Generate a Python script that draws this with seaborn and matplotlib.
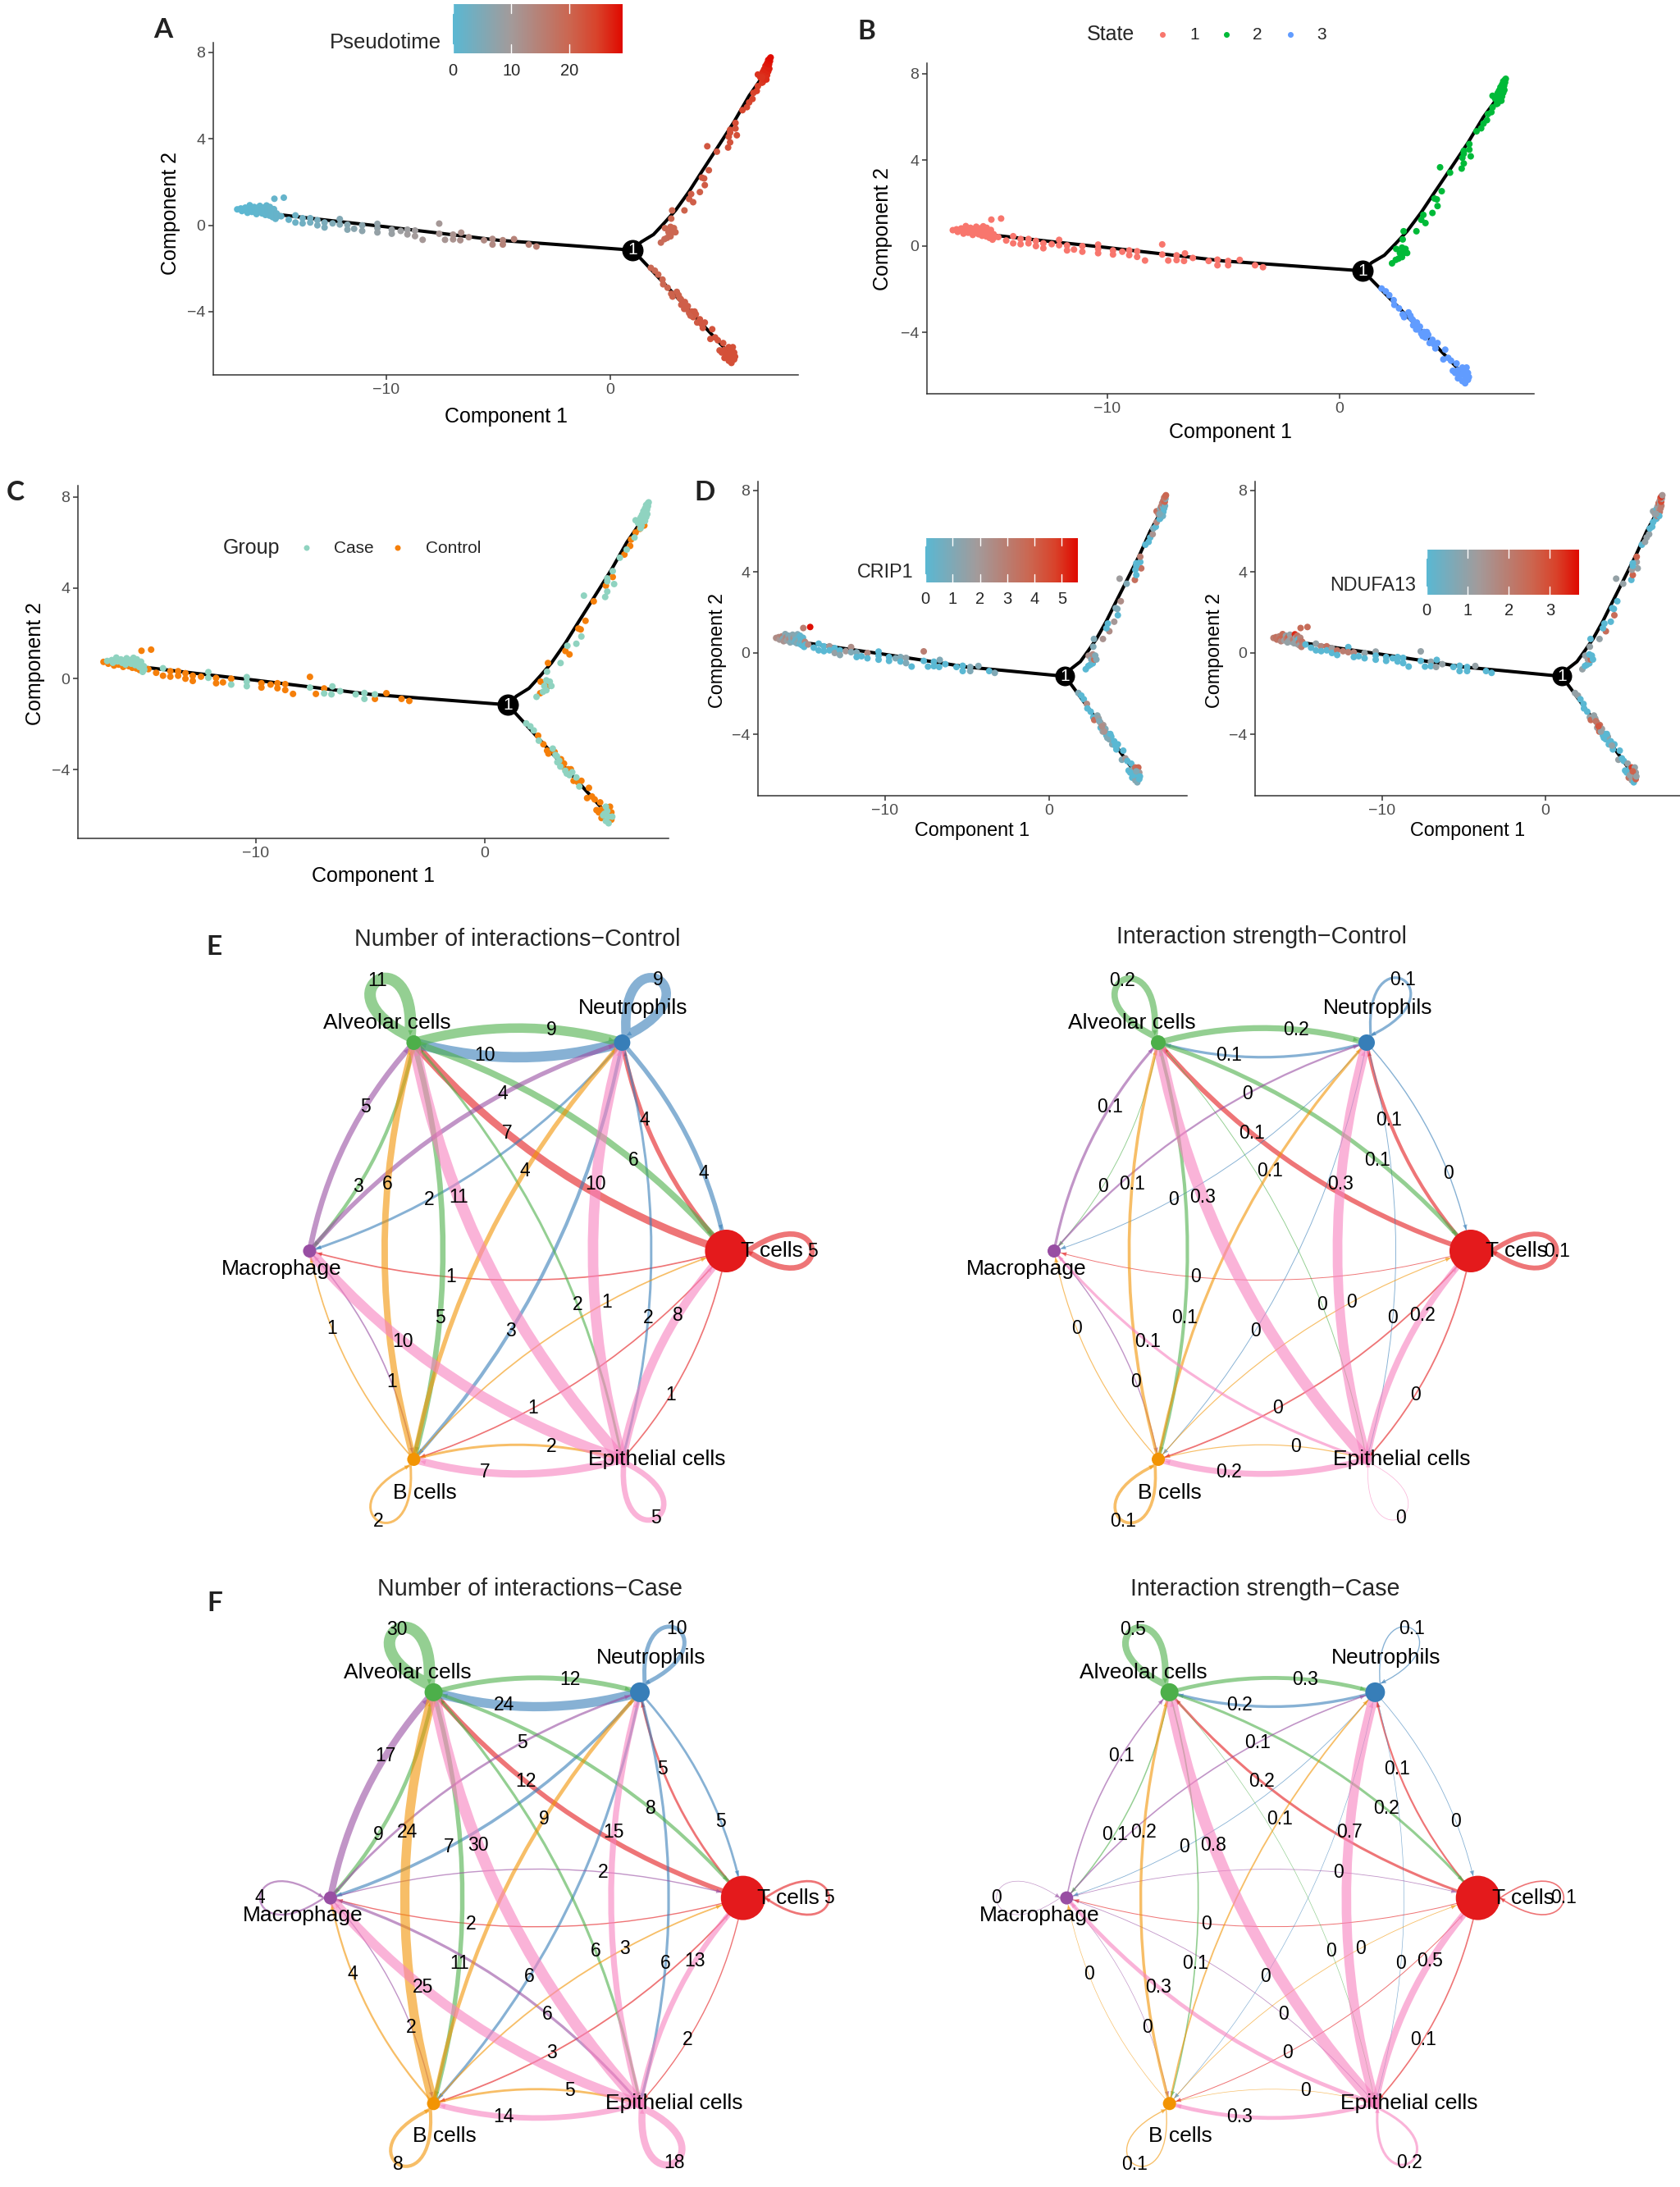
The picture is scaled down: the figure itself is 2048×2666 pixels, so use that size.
import numpy as np
import pandas as pd
import matplotlib
matplotlib.use("Agg")
import matplotlib.pyplot as plt
from matplotlib.colors import LinearSegmentedColormap, to_rgba
from matplotlib.patches import FancyArrowPatch
from matplotlib.path import Path
import seaborn as sns

# ---------------- DATA: trajectory cells (x, y, pseudotime, group, CRIP1, NDUFA13)
CA, CO = "Case", "Control"
LEFT_CLUSTER = [
 (-16.66,.74,0.2,CO,2.4,2.0),(-16.5,.78,0.3,CA,2.6,2.3),(-16.45,.66,0.3,CO,2.0,2.2),(-16.3,.82,0.4,CA,2.8,2.0),
 (-16.25,.7,0.4,CA,1.0,2.4),(-16.2,.58,0.5,CO,2.2,1.8),(-16.1,.93,0.5,CA,1.2,2.4),(-16.05,.76,0.6,CA,2.6,2.5),
 (-16,.62,0.6,CO,1.6,1.2),(-15.9,.85,0.7,CA,1.0,1.0),(-15.85,.7,0.7,CA,2.4,2.0),(-15.8,.52,0.8,CO,1.2,1.0),
 (-15.75,.8,0.8,CA,1.0,2.6),(-15.7,.62,0.9,CA,0.8,1.0),(-15.65,.9,0.9,CA,1.2,1.0),(-15.6,.72,1.0,CA,2.2,1.2),
 (-15.55,.55,1.0,CO,0.6,1.0),(-15.5,.82,1.1,CA,1.2,1.2),(-15.45,.66,1.1,CA,0.3,2.0),(-15.4,.48,1.2,CO,1.0,1.0),
 (-15.35,.92,1.2,CA,1.0,3.4),(-15.3,.76,1.3,CA,0.5,1.2),(-15.28,.6,1.3,CA,1.2,1.0),(-15.22,.45,1.3,CO,0.3,1.0),
 (-15.2,.85,1.4,CA,0.2,2.2),(-15.15,.68,1.4,CA,0.1,0.1),(-15.1,.52,1.4,CA,1.0,2.2),(-15.08,.38,1.5,CO,0.0,1.2),
 (-15.02,.75,1.5,CA,0.2,1.8),(-15.0,.6,1.5,CA,0.0,2.0),(-14.97,.44,1.5,CA,0.0,0.8),(-14.95,.3,1.5,CA,0.0,2.0),
 (-14.9,.55,1.6,CA,2.6,2.2),(-14.88,.4,1.6,CA,0.0,2.0),
]
LEFT_TAIL = [
 (-15.0,1.23,1.5,CO,3.0,2.4),(-14.58,1.28,1.5,CO,5.5,2.4),(-14.7,.42,2,CO,2.4,0),(-14.36,.26,2,CO,0,0),
 (-14.06,.46,2.5,CA,0,1.0),(-14.06,.13,2.5,CO,0,0),(-13.74,.33,3,CO,0,1.8),(-13.74,.09,3,CO,0,0),
 (-13.4,.33,3.5,CO,2.2,2.3),(-13.4,.13,3.5,CO,0,0),(-13.08,.24,4,CO,0,1.2),(-13.08,0,4,CO,1.6,0),
 (-12.76,.13,4.5,CO,0,2.2),(-12.76,-.1,4.5,CO,1.2,0),(-12.4,.09,5,CO,2.0,2.0),(-12.08,.29,5.5,CA,2.4,0),
 (-12.08,.04,5.5,CA,1.0,2.0),(-11.74,.03,6,CO,1.0,1.8),(-11.74,-.2,6,CO,0,0),(-11.44,-.16,6.5,CO,0,0),
 (-11.08,0,6.5,CO,2.6,1.0),(-11.08,-.26,7,CA,0,0),(-10.4,.07,7.5,CA,0,1.0),(-10.4,-.13,7.5,CA,0,0),
 (-10.4,-.33,8,CA,0,0),(-9.76,-.2,8.5,CO,0,0),(-9.76,-.39,8.5,CO,0,0),(-9.36,-.26,9,CO,1.0,0),
 (-9.06,-.2,9,CO,1.0,0),(-9.06,-.42,9.5,CO,0,0),(-8.72,-.24,9.5,CO,1.4,0),(-8.72,-.5,10,CO,1.0,0),
 (-8.38,-.67,10.5,CO,0,0),(-7.64,.08,10.5,CO,3.0,1.0),(-7.64,-.39,11,CA,0,0),(-7.38,-.67,11,CO,0,0),
 (-7.02,-.43,11.5,CO,0,0.9),(-7.02,-.65,11.5,CA,0,0),(-6.7,-.69,12,CA,0,1.0),(-6.66,-.34,12.5,CA,1.0,0),
 (-6.32,-.55,12.5,CA,0,1.0),(-5.64,-.69,13,CA,0,0),(-5.26,-.63,13,CA,0,0),(-5.26,-.89,13.5,CA,0,0),
 (-4.8,-.69,14,CA,1.0,0),(-4.8,-.89,14.5,CO,1.0,0),(-4.3,-.64,14.5,CO,1.0,1.0),(-3.64,-.89,15,CO,0,0),
 (-3.3,-.98,15.5,CO,1.0,0),
]
UP_ARM = [
 (2.26,-.80,19,CA,0,1.0),(2.42,-.64,19,CO,0,0),(2.54,-.58,19,CA,0,0),(2.69,-.51,19.5,CA,0,0),
 (2.44,-.13,19.5,CO,2.2,1.0),(2.60,-.32,19.5,CA,1.0,1.2),(2.78,-.32,20,CO,3.5,2.4),(2.91,-.32,20,CA,1.0,0),
 (2.69,-.07,20,CA,2.5,0),(2.84,-.13,20,CA,1.0,0),(2.72,.31,20,CA,1.0,1.0),(2.76,.69,20,CO,1.0,0),
 (3.31,.69,20.5,CA,2.2,1.0),(3.70,1.07,21,CO,2.4,2.4),(3.52,1.22,21,CO,0,0),(3.61,1.45,21,CA,0,0),
 (4.0,1.54,21,CA,2.0,0),(4.22,1.86,21.5,CA,0,2.4),(4.09,2.21,21.5,CO,1.0,0),(4.19,2.17,21.5,CO,1.0,0),
 (4.40,2.55,21.5,CO,2.4,0),(4.76,3.41,22,CO,1.0,1.0),(4.33,3.66,22,CA,1.8,1.0),(5.26,3.60,22.5,CA,3.5,0),
 (5.35,3.84,22.5,CA,0,2.6),(5.65,4.17,23,CA,3.4,1.0),(5.29,4.10,23,CO,0,1.2),(5.35,4.29,23,CA,0,0),
 (5.59,4.48,23,CO,0,1.2),(5.59,4.74,23.5,CA,3.0,2.6),(5.35,4.42,23,CA,0,0),(5.90,5.33,24,CA,0,0),
 (6.1,5.47,24,CO,0,1.0),(6.2,5.69,24,CA,0,1.0),(6.35,5.85,24.5,CO,2.2,1.0),(6.39,6.13,24.5,CO,1.0,0),
 (6.54,6.22,25,CA,0,0),(6.59,6.44,25,CO,2.6,0),(6.81,6.63,25.5,CA,0,2.4),
]
UP_TIP = [
 (6.77,6.6,25.5,CO,0,0),(6.85,6.75,26,CA,0,2.0),(6.59,6.98,26,CA,3.5,1.0),(6.85,6.95,26,CA,1.0,0),
 (6.93,6.85,26.5,CO,0,1.0),(6.81,7.1,26.5,CA,1.0,0),(6.93,7.05,26.5,CA,2.4,1.4),(7.0,6.95,26.5,CA,0,2.2),
 (6.87,7.22,27,CA,3.2,1.2),(6.97,7.2,27,CA,1.0,1.0),(7.05,7.12,27,CA,0,2.0),(6.93,7.38,27.5,CA,2.8,2.4),
 (7.03,7.32,27.5,CA,3.2,1.0),(7.1,7.25,27.5,CA,0.5,2.0),(7.0,7.5,28,CA,3.4,1.4),(7.09,7.45,28,CA,3.8,3.0),
 (7.13,7.6,28.5,CA,1.0,1.2),(7.05,7.65,28.5,CA,3.2,2.8),(7.12,7.72,28.8,CA,3.6,3.4),(7.16,7.77,29,CA,3.8,1.4),
 (6.97,6.75,26.5,CO,0.5,0),(6.7,6.85,26,CA,2.8,1.2),(6.78,6.85,26,CO,1.0,1.0),
]
DOWN_ARM = [
 (1.81,-1.97,19.5,CA,1.0,1.0),(1.99,-2.10,19.5,CA,0,1.0),(2.14,-2.28,20,CA,0,0),(2.33,-2.51,20,CO,2.5,0),
 (2.36,-2.73,20,CA,0,0),(2.56,-2.89,20,CO,0,0),(2.72,-3.17,20.5,CO,0,1.0),(2.78,-3.30,20.5,CO,3.5,2.4),
 (2.97,-3.08,20.5,CA,1.2,1.0),(3.05,-3.23,20.5,CO,1.6,1.0),(3.15,-3.42,20.5,CA,2.2,1.0),(3.17,-3.68,21,CA,0,1.2),
 (3.33,-3.55,21,CO,2.0,2.4),(3.30,-3.87,21,CA,1.6,2.6),(3.46,-3.74,21,CO,1.0,1.2),(3.52,-4.06,21,CA,0,0),
 (3.64,-3.99,21.5,CO,0,0),(3.70,-4.25,21.5,CA,1.2,0),(3.82,-4.12,21.5,CA,0,1.0),(3.88,-4.50,21.5,CO,1.0,0),
 (4.0,-4.35,22,CA,0,0),(4.13,-4.75,22,CA,0,0),(4.22,-4.50,22,CO,0,0),(4.55,-4.81,22.5,CO,0,0),
 (4.47,-5.26,22.5,CO,1.0,1.0),(4.68,-5.19,22.5,CO,2.0,0),(4.80,-5.32,22.5,CO,0,0),(5.04,-5.45,22.5,CO,0,1.0),
 (4.88,-5.79,22.5,CO,0,0),(3.09,-3.36,20.5,CA,1.0,2.2),(3.39,-3.87,21,CO,2.2,1.0),(3.58,-4.18,21,CA,1.0,0),
 (3.76,-3.99,21.5,CO,0,0),(4.07,-4.56,22,CO,0,1.0),(3.25,-3.61,21,CA,2.4,2.8),
]
DOWN_TIP = [
 (5.10,-5.76,22.8,CO,1.2,0),(5.29,-5.64,23,CA,3.6,3.2),(5.47,-5.64,23,CO,3.8,1.0),(5.53,-5.89,23,CO,2.0,1.0),
 (5.23,-5.95,23,CA,1.2,0),(5.41,-6.08,23,CA,0,2.4),(5.10,-6.14,23,CO,0,2.2),(5.29,-6.27,23,CA,1.2,1.2),
 (5.41,-6.37,23,CA,1.0,0),(5.53,-6.21,23,CO,0,2.6),(4.98,-5.89,22.8,CO,0,0),(5.17,-6.02,23,CA,0,1.0),
 (5.35,-5.83,23,CA,1.0,2.6),(5.57,-6.08,23,CA,0,1.0),
]

TRUNK_X = [-15.0, -12.5, -10.0, -7.5, -5.0, -2.5, 1.0]
TRUNK_Y = [0.52, 0.22, -0.07, -0.38, -0.69, -0.88, -1.15]
UP_X = [1.0, 1.38, 1.93, 2.42, 2.91, 3.52, 4.07, 4.74, 5.53, 6.2, 6.63, 7.1]
UP_Y = [-1.15, -0.77, -0.425, 0.12, 0.69, 1.57, 2.46, 3.53, 4.8, 6.0, 6.63, 7.4]
DOWN_X = [1.0, 1.75, 4.43, 5.2]
DOWN_Y = [-1.15, -1.97, -4.94, -5.8]

X_TICKS = [-10, 0]
Y_TICKS = [-4, 0, 4, 8]

# ---------------- DATA: cell-cell networks (row = source, column = target)
CELLS = ["T cells", "Neutrophils", "Alveolar cells", "Macrophage", "B cells", "Epithelial cells"]
CELL_COLORS = ["#E41A1C", "#377EB8", "#4DAF4A", "#984EA3", "#F29403", "#F781BF"]
COUNT_CONTROL = [
 [5, 4, 7, 1, 1, 1],
 [4, 9, 10, 2, 3, 2],
 [6, 9, 11, 3, 5, 2],
 [0, 4, 5, 0, 1, 0],
 [1, 4, 6, 1, 2, 2],
 [8, 10, 11, 10, 7, 5],
]
STRENGTH_CONTROL = [
 [.12, .08, .12, .01, .03, .03],
 [.02, .06, .06, .01, .01, .01],
 [.10, .151, .16, .01, .08, .01],
 [0, .04, .06, 0, .02, 0],
 [.015, .06, .07, .015, .07, .015],
 [.16, .251, .30, .06, .151, .005],
]
COUNT_CASE = [
 [5, 5, 12, 2, 3, 2],
 [5, 10, 24, 7, 6, 6],
 [8, 12, 30, 9, 11, 6],
 [2, 5, 17, 4, 2, 6],
 [3, 9, 24, 4, 8, 5],
 [13, 15, 30, 25, 14, 18],
]
STRENGTH_CASE = [
 [.07, .10, .151, .03, .03, .07],
 [.02, .05, .17, .02, .01, .01],
 [.151, .251, .451, .06, .07, .01],
 [.02, .07, .07, .01, .01, .02],
 [.02, .08, .17, .01, .05, .01],
 [.451, .66, .80, .251, .251, .151],
]
NODE_RADIUS_CONTROL = [26, 10, 9, 8, 8, 4]
NODE_RADIUS_CASE = [27, 12, 11, 8, 8, 6]

# ---------------- set-up
W, H = 2048, 2666
sns.set_theme(style="ticks")
plt.rcParams["font.family"] = ["Liberation Sans", "DejaVu Sans"]
plt.rcParams["axes.unicode_minus"] = True
fig = plt.figure(figsize=(W / 100, H / 100), dpi=100, facecolor="white")

PX = 0.72
cols = ["c1", "c2", "pt", "group", "crip", "nd"]
parts = []
for rows, state in [(LEFT_CLUSTER, "1"), (LEFT_TAIL, "1"), (UP_ARM, "2"), (UP_TIP, "2"), (DOWN_ARM, "3"), (DOWN_TIP, "3")]:
    d = pd.DataFrame(rows, columns=cols)
    d["state"] = state
    parts.append(d)
cells = pd.concat(parts, ignore_index=True)

GRAD = LinearSegmentedColormap.from_list(
    "grad", [(0, "#5AB8D3"), (.34, "#A39B9B"), (.69, "#CC6650"), (.85, "#D9432B"), (1, "#E00A00")])
STATE_PAL = {"1": "#F8766D", "2": "#00BA38", "3": "#619CFF"}
GROUP_PAL = {CA: "#8FD3C0", CO: "#F57F0A"}
DOT = 8.0

overlay = fig.add_axes([0, 0, 1, 1], zorder=20)
overlay.set_xlim(0, W)
overlay.set_ylim(H, 0)
overlay.axis("off")


def label(x, y, s, size, **kw):
    kw.setdefault("ha", "center")
    kw.setdefault("va", "center")
    overlay.text(x, y, s, fontsize=size, **kw)


def traj_axes(L, R, B, T, xm10, x0, y8, ym4):
    ax = fig.add_axes([L / W, 1 - B / H, (R - L) / W, (B - T) / H])
    ux = (x0 - xm10) / 10
    uy = (ym4 - y8) / 12
    y0 = y8 + 8 * uy
    ax.set_xlim((L - x0) / ux, (R - x0) / ux)
    ax.set_ylim((y0 - B) / uy, (y0 - T) / uy)
    return ax


def finish(ax, L, R, xlab_y, ylab_x, ylab_y, fs_lab, node_px):
    for lx, ly in [(TRUNK_X, TRUNK_Y), (UP_X, UP_Y), (DOWN_X, DOWN_Y)]:
        sns.lineplot(x=lx, y=ly, sort=False, estimator=None, color="black", lw=2.9,
                     ax=ax, zorder=1, legend=False)
    ax.scatter([TRUNK_X[-1]], [TRUNK_Y[-1]], s=(node_px * PX) ** 2, color="black", zorder=3, linewidth=0)
    ax.text(TRUNK_X[-1], TRUNK_Y[-1], "1", color="white", fontsize=15, ha="center", va="center", zorder=4)
    ax.set_xticks(X_TICKS)
    ax.set_yticks(Y_TICKS)
    sns.despine(ax=ax)
    for sp in ("left", "bottom"):
        ax.spines[sp].set_linewidth(1.1)
        ax.spines[sp].set_color("#333333")
    ax.tick_params(labelsize=14, labelcolor="#4D4D4D", color="#333333", length=4, width=1.1, pad=3)
    ax.set_xlabel("")
    ax.set_ylabel("")
    label((L + R) / 2, xlab_y, "Component 1", fs_lab, color="black")
    label(ylab_x, ylab_y, "Component 2", fs_lab, rotation=90, color="black")


def colorbar(x0, x1, y0, y1, vmax, ticks, name, title_right, title_y, tick_y, fs_title):
    cax = fig.add_axes([x0 / W, 1 - y1 / H, (x1 - x0) / W, (y1 - y0) / H], zorder=15)
    grad = np.linspace(0, 1, 256).reshape(1, -1)
    cax.imshow(grad, aspect="auto", cmap=GRAD, extent=(0, vmax, 0, 1))
    for t in ticks:
        cax.plot([t, t], [0, .18], color="white", lw=1)
        cax.plot([t, t], [.82, 1], color="white", lw=1)
        label(x0 + (x1 - x0) * t / vmax, tick_y, str(t), 14.5)
    cax.set_xlim(0, vmax)
    cax.set_ylim(0, 1)
    cax.axis("off")
    label(title_right, title_y, name, fs_title, ha="right")


# Panel A
L, R = 260, 973
ax = traj_axes(L, R, 457, 52, 471, 744, 64, 380)
sns.scatterplot(data=cells, x="c1", y="c2", hue="pt", palette=GRAD, hue_norm=(0, 29.1),
                s=(DOT * PX) ** 2, linewidth=0, legend=False, ax=ax, zorder=2)
finish(ax, L, R, 508, 208, 260, 18, 26)
colorbar(552, 759, 5, 65, 29.1, [0, 10, 20], "Pseudotime", 538, 52, 87, 18.5)

# Panel B
L, R = 1130, 1870
ax = traj_axes(L, R, 480, 77, 1350, 1633, 90, 405)
sns.scatterplot(data=cells, x="c1", y="c2", hue="state", palette=STATE_PAL,
                s=(DOT * PX) ** 2, linewidth=0, legend=False, ax=ax, zorder=2)
finish(ax, L, R, 527, 1076, 279, 18, 26)
label(1325, 42, "State", 18, ha="left")
for k, dx, lx in [("1", 1417, 1456), ("2", 1495, 1533), ("3", 1573, 1611)]:
    overlay.scatter([dx], [42], s=(7 * PX) ** 2, color=STATE_PAL[k], linewidth=0)
    label(lx, 42, k, 15)

# Panel C
L, R = 95, 815
ax = traj_axes(L, R, 1022, 592, 312, 591, 606, 938)
order = cells.assign(k=(cells["group"] == CA).astype(int)).sort_values("k", kind="stable")
sns.scatterplot(data=order, x="c1", y="c2", hue="group", palette=GROUP_PAL,
                s=(DOT * PX) ** 2, linewidth=0, legend=False, ax=ax, zorder=2)
finish(ax, L, R, 1068, 43, 809, 18, 26)
label(272, 668, "Group", 18, ha="left")
overlay.scatter([374, 485], [668, 668], s=(7 * PX) ** 2, color=[GROUP_PAL[CA], GROUP_PAL[CO]], linewidth=0)
label(406.5, 668, CA, 15, ha="left")
label(519, 668, CO, 15, ha="left")

# Panel D, CRIP1
L, R = 924, 1447
ax = traj_axes(L, R, 970, 587, 1079, 1278.5, 598, 895)
sns.scatterplot(data=cells, x="c1", y="c2", hue="crip", palette=GRAD, hue_norm=(0, 5.58),
                s=(DOT * PX) ** 2, linewidth=0, legend=False, ax=ax, zorder=2)
finish(ax, L, R, 1013, 875, 793, 16.8, 24)
colorbar(1128, 1313.7, 655.7, 710, 5.58, [0, 1, 2, 3, 4, 5], "CRIP1", 1113.7, 698, 730, 16.8)

# Panel D, NDUFA13
L, R = 1530, 2048
ax = traj_axes(L, R, 970, 587, 1685, 1884, 598, 895)
sns.scatterplot(data=cells, x="c1", y="c2", hue="nd", palette=GRAD, hue_norm=(0, 3.7),
                s=(DOT * PX) ** 2, linewidth=0, legend=False, ax=ax, zorder=2)
finish(ax, L, R, 1013, 1481, 793, 16.8, 24)
colorbar(1739, 1924.5, 670, 725, 3.7, [0, 1, 2, 3], "NDUFA13", 1726, 713, 744, 16.8)

# Panel letters
for s, x, y in [("A", 199, 37), ("B", 1056, 39), ("C", 19, 601), ("D", 859, 601), ("E", 261, 1154), ("F", 262, 1955)]:
    label(x, y, s, 24, family="Lato", weight="bold", color="#222222")


# ---------------- Networks
ANGLES = np.deg2rad([0, 60, 120, 180, 240, 300])
NODE_X = np.cos(ANGLES)
NODE_Y = np.sin(ANGLES) / np.sin(np.pi / 3)
LABEL_DX = [.22, .053, -.127, -.134, .053, .167]
LABEL_DY = [0, .167, .094, -.087, -.16, 0]
RAD = .14
LOOP_L, LOOP_PHI = .50, .60
HEAD = "-|>,head_length=0.45,head_width=0.2"


def fmt(v):
    return f"{round(v + 1e-9, 1):g}"


def add_head(ax, curve, centre, r, rgba, z):
    ts = np.linspace(1, 0, 401)
    pts = np.array([curve(t) for t in ts])
    dist = np.hypot(*(pts - centre).T)
    k = np.argmax(dist >= r)
    tip = pts[k]
    run = np.cumsum(np.hypot(*np.diff(pts[k:], axis=0).T))
    tail = pts[k + 1 + np.argmax(run >= .022)]
    ax.add_patch(FancyArrowPatch(tail, tip, arrowstyle=HEAD, mutation_scale=10, lw=0, color=rgba,
                                 shrinkA=0, shrinkB=0, clip_on=False, zorder=z))


def network(cx, cy, hx, hy, matrix, radii, title, tx, ty, lw_max=13.5, lw_min=.5):
    span = 1.7
    ax = fig.add_axes([(cx - span * hx) / W, 1 - (cy + span * hy) / H, 2 * span * hx / W, 2 * span * hy / H], zorder=5)
    ax.set_xlim(-span, span)
    ax.set_ylim(-span, span)
    ax.axis("off")
    mat = np.array(matrix, dtype=float)
    vmax = mat.max()
    for i in range(6):
        rgba = to_rgba(CELL_COLORS[i], .6)
        z = 2 + i * .1
        for j in range(6):
            v = mat[i, j]
            if v <= 0:
                continue
            lw_px = lw_min + lw_max * v / vmax
            p0 = np.array([NODE_X[i], NODE_Y[i]])
            p1 = np.array([NODE_X[j], NODE_Y[j]])
            if i == j:
                a = ANGLES[i]
                r = radii[i] / hx
                u = np.array([np.cos(a), np.sin(a)])
                start = p0 + r * u
                c1 = start + LOOP_L * np.array([np.cos(a + LOOP_PHI), np.sin(a + LOOP_PHI)])
                c2 = start + LOOP_L * np.array([np.cos(a - LOOP_PHI), np.sin(a - LOOP_PHI)])
                path = Path([start, c1, c2, start], [Path.MOVETO, Path.CURVE4, Path.CURVE4, Path.CURVE4])
                ax.add_patch(FancyArrowPatch(path=path, arrowstyle="-", lw=lw_px * PX, color=rgba,
                                             clip_on=False, zorder=z))
                curve = lambda t, s=start, a1=c1, a2=c2: (1 - t) ** 3 * s + 3 * t * (1 - t) ** 2 * a1 + 3 * t ** 2 * (1 - t) * a2 + t ** 3 * s
                add_head(ax, curve, p1, r, rgba, z)
                pos = start + .75 * LOOP_L * np.cos(LOOP_PHI) * u
            else:
                cs = f"arc3,rad={-RAD}"
                r = radii[j] / hx
                ax.add_patch(FancyArrowPatch(p0, p1, connectionstyle=cs, arrowstyle="-", lw=lw_px * PX,
                                             color=rgba, shrinkA=0, shrinkB=radii[j] * PX * .6,
                                             clip_on=False, zorder=z))
                d = p1 - p0
                ctrl = (p0 + p1) / 2 + RAD * np.array([-d[1], d[0]])
                curve = lambda t, a0=p0, c=ctrl, a1=p1: (1 - t) ** 2 * a0 + 2 * t * (1 - t) * c + t ** 2 * a1
                add_head(ax, curve, p1, r, rgba, z)
                pos = curve(.66)
            ax.text(pos[0], pos[1], fmt(v), fontsize=16.5, ha="center", va="center", color="black",
                    zorder=8, clip_on=False)
    nodes = pd.DataFrame({"x": NODE_X, "y": NODE_Y, "cell": CELLS})
    sns.scatterplot(data=nodes, x="x", y="y", hue="cell", palette=dict(zip(CELLS, CELL_COLORS)),
                    size="cell", sizes={c: (2 * r * PX) ** 2 for c, r in zip(CELLS, radii)},
                    linewidth=0, legend=False, ax=ax, zorder=6, clip_on=False)
    ax.set_xlim(-span, span)
    ax.set_ylim(-span, span)
    ax.axis("off")
    for k, name in enumerate(CELLS):
        ax.text(NODE_X[k] + LABEL_DX[k], NODE_Y[k] + LABEL_DY[k], name, fontsize=19, ha="center", va="center",
                color="black", zorder=9, clip_on=False)
    label(tx, ty, title, 20.6)


network(631.4, 1525, 254, 254, COUNT_CONTROL, NODE_RADIUS_CONTROL, "Number of interactions\u2212Control", 631, 1145)
network(1539, 1525, 254, 254, STRENGTH_CONTROL, NODE_RADIUS_CONTROL, "Interaction strength\u2212Control", 1538, 1142)
network(654.3, 2313.6, 251.5, 250.7, COUNT_CASE, NODE_RADIUS_CASE, "Number of interactions\u2212Case", 646, 1937)
network(1551, 2313.6, 250.7, 250.7, STRENGTH_CASE, NODE_RADIUS_CASE, "Interaction strength\u2212Case", 1542, 1937)

fig.savefig("out.png", dpi=100, facecolor="white")
